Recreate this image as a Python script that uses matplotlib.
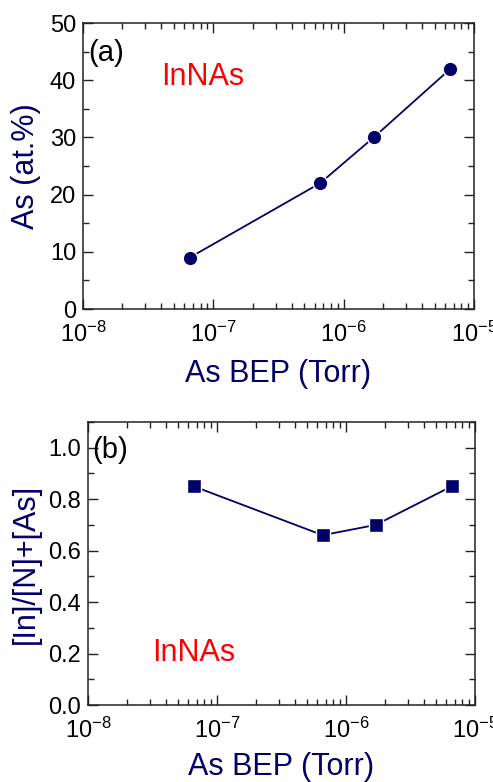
import matplotlib
matplotlib.use('Agg')
import matplotlib.pyplot as plt
from matplotlib.ticker import LogLocator, MultipleLocator, LogFormatterMathtext, NullFormatter

plt.rcParams['font.family'] = ['Liberation Sans', 'DejaVu Sans']
plt.rcParams['mathtext.fontset'] = 'custom'
plt.rcParams['mathtext.rm'] = 'Liberation Sans'
plt.rcParams['mathtext.it'] = 'Liberation Sans:italic'
plt.rcParams['mathtext.bf'] = 'Liberation Sans:bold'

# data
as_bep = [6.6e-8, 6.6e-7, 1.7e-6, 6.6e-6]
as_content = [9, 22, 30, 42]
ratio = [0.85, 0.66, 0.70, 0.85]

navy = '#000066'
red = '#ff0000'

fig = plt.figure(figsize=(4.93, 7.82), dpi=100)
W, H = 493, 782
ax1 = fig.add_axes([83 / W, 1 - 309 / H, 391 / W, 286 / H])
ax2 = fig.add_axes([88 / W, 1 - 705 / H, 387 / W, 283 / H])


def style(ax):
    ax.set_xscale('log')
    ax.set_xlim(1e-8, 1e-5)
    ax.xaxis.set_major_locator(LogLocator(base=10, numticks=10))
    ax.xaxis.set_minor_locator(LogLocator(base=10, subs=range(2, 10), numticks=20))
    ax.xaxis.set_major_formatter(LogFormatterMathtext())
    ax.xaxis.set_minor_formatter(NullFormatter())
    ax.tick_params(which='both', direction='in', top=True, right=True, width=1, colors='#222222',
                   labelcolor='black', labelsize=17)
    ax.tick_params(which='major', length=7)
    ax.tick_params(which='minor', length=4)
    ax.tick_params(axis='x', pad=9)
    ax.tick_params(axis='y', pad=5)
    for s in ax.spines.values():
        s.set_linewidth(1.1)
        s.set_color('#222222')


# (a) As content
style(ax1)
ax1.plot(as_bep, as_content, '-', color=navy, lw=1.3, marker='o', ms=10.5, mfc=navy, mec='white', mew=1)
ax1.set_ylim(0, 50)
ax1.yaxis.set_major_locator(MultipleLocator(10))
ax1.yaxis.set_minor_locator(MultipleLocator(5))
ax1.set_ylabel('As (at.%)', fontsize=22, color=navy, labelpad=6)
ax1.set_xlabel('As BEP (Torr)', fontsize=22, color=navy, labelpad=9)
ax1.text(0.013, 0.895, '(a)', transform=ax1.transAxes, fontsize=21, va='center', ha='left')
ax1.text(0.20, 0.81, 'InNAs', transform=ax1.transAxes, fontsize=22, color=red, va='center', ha='left')

# (b) ratio
style(ax2)
ax2.plot(as_bep, ratio, '-', color=navy, lw=1.3, marker='s', ms=10, mfc=navy, mec='white', mew=1)
ax2.set_ylim(0, 1.1)
ax2.yaxis.set_major_locator(MultipleLocator(0.2))
ax2.yaxis.set_minor_locator(MultipleLocator(0.1))
ax2.yaxis.set_major_formatter(plt.FormatStrFormatter('%.1f'))
ax2.set_ylabel('[In]/[N]+[As]', fontsize=22, color=navy, labelpad=5)
ax2.set_xlabel('As BEP (Torr)', fontsize=22, color=navy, labelpad=7)
ax2.text(0.01, 0.90, '(b)', transform=ax2.transAxes, fontsize=21, va='center', ha='left')
ax2.text(0.165, 0.184, 'InNAs', transform=ax2.transAxes, fontsize=22, color=red, va='center', ha='left')

fig.savefig('out.png', dpi=100)
